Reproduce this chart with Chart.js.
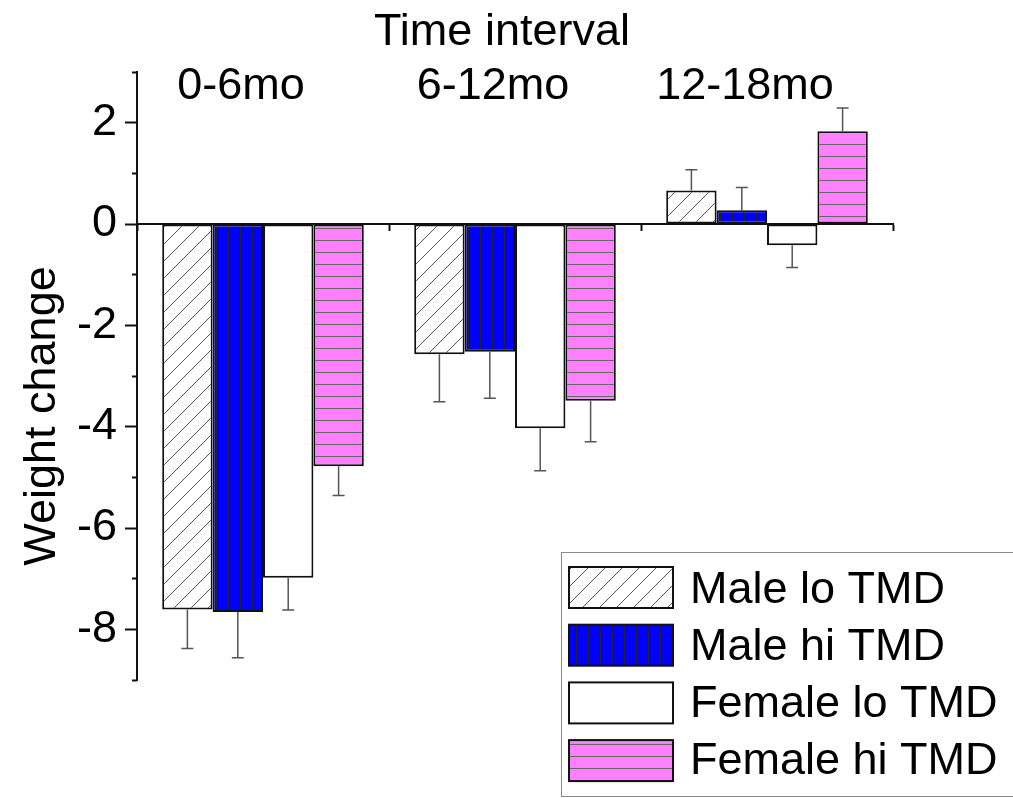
<!DOCTYPE html>
<html>
<head>
<meta charset="utf-8">
<script src="https://cdn.jsdelivr.net/npm/chart.js@4"></script>
<style>
  html, body { margin: 0; padding: 0; background: #fff; }
</style>
</head>
<body>
<canvas id="chart" width="1013" height="798"></canvas>
<script>
// Datos
const intervalos = ['0-6mo', '6-12mo', '12-18mo'];
const nombresSeries = ['Male lo TMD', 'Male hi TMD', 'Female lo TMD', 'Female hi TMD'];

const maleLo = [-7.61, -2.57, 0.66];
const maleHi = [-7.66, -2.52, 0.27];
const femaleLo = [-6.98, -4.03, -0.42];
const femaleHi = [-4.78, -3.49, 1.83];

// error (solo hacia afuera del cero)
const errMaleLo = [0.77, 0.94, 0.41];
const errMaleHi = [0.90, 0.92, 0.45];
const errFemaleLo = [0.64, 0.84, 0.44];
const errFemaleHi = [0.58, 0.81, 0.46];

const yMin = -9;
const yMax = 3;
const yEtiquetas = [-8, -6, -4, -2, 0, 2];

const FUENTE = "'Liberation Sans', Arial, sans-serif";

function hacerPatron(fondo, linea, tipo, paso) {
    const c = document.createElement('canvas');
    c.width = paso;
    c.height = paso;
    const g = c.getContext('2d');
    g.fillStyle = fondo;
    g.fillRect(0, 0, paso, paso);
    if (tipo) {
        g.strokeStyle = linea;
        g.lineWidth = 1;
        g.beginPath();
        if (tipo === 'diag') {
            g.moveTo(-2, paso + 2); g.lineTo(paso + 2, -2);
            g.moveTo(-2, 2); g.lineTo(2, -2);
            g.moveTo(paso - 2, paso + 2); g.lineTo(paso + 2, paso - 2);
        } else if (tipo === 'vert') {
            g.moveTo(0.5, 0); g.lineTo(0.5, paso);
        } else {
            g.moveTo(0, 0.5); g.lineTo(paso, 0.5);
        }
        g.stroke();
    }
    return g.createPattern(c, 'repeat');
}

const patrones = [
    hacerPatron('#ffffff', '#555555', 'diag', 17),
    hacerPatron('#0000ff', '#222222', 'vert', 12),
    hacerPatron('#ffffff', null, null, 12),
    hacerPatron('#ff80ff', '#666666', 'horiz', 12)
];

const valores = [maleLo, maleHi, femaleLo, femaleHi];
const errores = [errMaleLo, errMaleHi, errFemaleLo, errFemaleHi];

// Barras de error
const barrasError = {
    id: 'barrasError',
    afterDatasetsDraw(chart) {
        const ctx = chart.ctx;
        const ys = chart.scales.y;
        ctx.save();
        ctx.strokeStyle = '#555555';
        ctx.lineWidth = 1.5;
        chart.data.datasets.forEach((ds, i) => {
            const meta = chart.getDatasetMeta(i);
            meta.data.forEach((bar, j) => {
                const v = ds.data[j];
                const e = ds.errores[j];
                const fin = ys.getPixelForValue(v >= 0 ? v + e : v - e);
                ctx.beginPath();
                ctx.moveTo(bar.x, bar.y);
                ctx.lineTo(bar.x, fin);
                ctx.moveTo(bar.x - 6, fin);
                ctx.lineTo(bar.x + 6, fin);
                ctx.stroke();
            });
        });
        ctx.restore();
    }
};

// Títulos de ejes y leyenda
const textosYLeyenda = {
    id: 'textosYLeyenda',
    afterDraw(chart) {
        const ctx = chart.ctx;
        ctx.save();
        ctx.fillStyle = '#000';
        ctx.font = `45px ${FUENTE}`;
        ctx.textAlign = 'center';
        ctx.textBaseline = 'alphabetic';
        ctx.fillText('Time interval', 502, 45);

        ctx.save();
        ctx.translate(55, 416);
        ctx.rotate(-Math.PI / 2);
        ctx.fillText('Weight change', 0, 0);
        ctx.restore();

        // leyenda
        ctx.fillStyle = '#fff';
        ctx.fillRect(561.5, 552.5, 460, 244);
        ctx.strokeStyle = '#888';
        ctx.lineWidth = 1;
        ctx.strokeRect(561.5, 552.5, 460, 244);
        ctx.textAlign = 'left';
        nombresSeries.forEach((nombre, i) => {
            const y = 567 + i * 57.7;
            ctx.fillStyle = patrones[i];
            ctx.fillRect(569, y, 104, 41);
            ctx.strokeStyle = '#111';
            ctx.lineWidth = 2;
            ctx.strokeRect(569, y, 104, 41);
            ctx.fillStyle = '#000';
            ctx.fillText(nombre, 690, 603 + i * 57);
        });
        ctx.restore();
    }
};

const datasets = nombresSeries.map((nombre, i) => ({
    label: nombre,
    data: valores[i],
    errores: errores[i],
    backgroundColor: patrones[i],
    borderColor: '#111111',
    borderWidth: 2,
    borderSkipped: false,
    categoryPercentage: 0.8,
    barPercentage: 1.0,
    xAxisID: 'x',
    yAxisID: 'y'
}));

const ctx = document.getElementById('chart').getContext('2d');
new Chart(ctx, {
    type: 'bar',
    data: { labels: intervalos, datasets: datasets },
    options: {
        responsive: false,
        animation: false,
        devicePixelRatio: 1,
        layout: { padding: { top: 0, right: 120, bottom: 118, left: 0 } },
        plugins: {
            legend: { display: false },
            tooltip: { enabled: false }
        },
        scales: {
            x: {
                type: 'category',
                position: 'top',
                offset: true,
                grid: { display: false, drawTicks: false },
                border: { display: false },
                ticks: {
                    color: '#000',
                    font: { family: FUENTE, size: 45 },
                    mirror: true,
                    padding: -12,
                    labelOffset: -22,
                    maxRotation: 0,
                    autoSkip: false
                },
                afterFit(scale) { scale.height = 72; }
            },
            x2: {
                type: 'category',
                position: { y: 0 },
                offset: true,
                grid: {
                    offset: true,
                    drawOnChartArea: false,
                    tickLength: 6,
                    tickWidth: 2,
                    color: '#111'
                },
                border: { display: true, color: '#111', width: 2 },
                ticks: { display: false }
            },
            y: {
                min: yMin,
                max: yMax,
                grid: {
                    drawOnChartArea: false,
                    tickLength: 12,
                    tickWidth: 2,
                    tickColor: (c) => yEtiquetas.includes(c.tick.value) ? '#111' : 'rgba(0,0,0,0)'
                },
                border: { display: true, color: '#111', width: 2 },
                ticks: {
                    stepSize: 1,
                    autoSkip: false,
                    color: '#000',
                    padding: 8,
                    font: { family: FUENTE, size: 45 },
                    callback: (v) => yEtiquetas.includes(v) ? String(v) : ''
                },
                afterFit(scale) { scale.width = 137; }
            },
            y2: {
                min: yMin,
                max: yMax,
                position: { x: -0.5 },
                grid: {
                    drawOnChartArea: false,
                    tickLength: 5,
                    tickWidth: 2,
                    tickColor: (c) => yEtiquetas.includes(c.tick.value) ? 'rgba(0,0,0,0)' : '#111'
                },
                border: { display: false },
                ticks: { display: false, stepSize: 1, autoSkip: false }
            }
        }
    },
    plugins: [barrasError, textosYLeyenda]
});
</script>
</body>
</html>
